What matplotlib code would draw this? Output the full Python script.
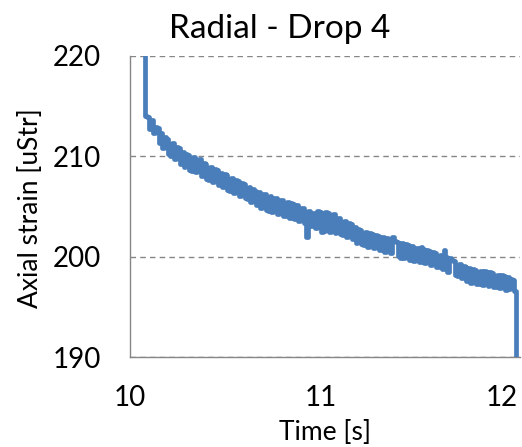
import numpy as np
import matplotlib
matplotlib.use("Agg")
import matplotlib.pyplot as plt
from matplotlib.transforms import ScaledTranslation

# Strain record, sampled every 0.01 s starting at t0
t0 = 10.08
dt = 0.01
strain = [
    228.0,
    214.0, 213.9, 212.7, 213.6, 212.3, 212.9, 212.8, 211.3, 212.3, 210.8,
    211.9, 211.7, 210.2, 210.0, 211.3, 209.7, 210.9, 210.8, 209.2, 210.4,
    208.9, 210.2, 210.1, 208.6, 208.5, 209.9, 208.4, 209.6, 209.7, 208.0,
    209.3, 209.2, 207.7, 207.6, 208.9, 207.4, 208.7, 208.6, 207.1, 208.3,
    206.9, 208.2, 208.1, 206.6, 206.5, 207.8, 206.3, 207.6, 207.5, 206.0,
    207.3, 207.2, 205.8, 205.7, 206.9, 205.4, 206.7, 206.5, 205.1, 206.4,
    204.9, 206.2, 206.2, 204.7, 204.6, 206.0, 204.5, 205.8, 205.8, 204.3,
    205.6, 205.6, 204.1, 204.1, 205.4, 203.9, 205.3, 205.2, 203.8, 205.1,
    203.6, 204.9, 204.9, 203.4, 202.0, 204.6, 203.1, 204.4, 204.3, 202.9,
    204.6, 204.5, 202.5, 202.6, 204.5, 204.4, 202.5, 202.7, 204.3, 202.4,
    203.8, 203.9, 202.3, 202.2, 203.6, 202.0, 203.4, 203.3, 201.8, 203.0,
    201.4, 202.8, 202.7, 201.3, 201.2, 202.5, 201.0, 202.4, 202.3, 200.9,
    202.2, 202.1, 200.7, 200.7, 202.0, 200.5, 201.9, 201.8, 200.4, 202.0,
    201.6, 201.5, 200.1, 199.9, 201.4, 199.9, 201.3, 201.2, 199.7, 201.1,
    199.6, 200.9, 200.9, 199.5, 201.0, 200.8, 199.4, 200.7, 200.6, 199.2,
    200.5, 200.4, 199.0, 199.0, 200.2, 198.8, 200.7, 200.0, 198.5, 199.9,
    199.7, 199.6, 198.2, 198.1, 199.3, 197.9, 199.1, 199.0, 197.6, 198.9,
    197.4, 198.8, 198.7, 197.3, 197.3, 198.6, 197.2, 198.6, 198.5, 197.1,
    198.5, 198.4, 197.0, 197.0, 198.2, 196.9, 198.2, 198.1, 196.7, 198.0,
    196.8, 197.8, 197.7, 196.6,
    185.0,
]
time = t0 + dt * np.arange(len(strain))

x_ticks = [10, 11, 12]
y_ticks = [190, 200, 210, 220]

FONT = "Lato"
LINE = "#4a7ebb"
AXIS = "#868686"

fig = plt.figure(figsize=(5.22, 4.47), dpi=100)
ax = fig.add_axes([130 / 522, 1 - 357 / 447, 390 / 522, 301 / 447])

ax.plot(time, strain, color=LINE, lw=3.4, drawstyle="steps-pre",
        solid_joinstyle="round", zorder=3)

ax.set_xlim(10, 12.04)
ax.set_ylim(190, 220)
ax.set_xticks(x_ticks)
ax.set_yticks(y_ticks)
ax.set_xticklabels([str(v) for v in x_ticks], fontfamily=FONT, fontsize=20)
ax.set_yticklabels([str(v) for v in y_ticks], fontfamily=FONT, fontsize=20)
ax.tick_params(axis="both", length=0, colors="black")
ax.tick_params(axis="x", pad=20)
ax.tick_params(axis="y", pad=21)

# nudge the last x label so it stays inside the chart
last = ax.get_xticklabels()[-1]
last.set_transform(last.get_transform() + ScaledTranslation(-11 / 100, 0, fig.dpi_scale_trans))

ax.grid(axis="y", color=AXIS, linestyle=(0, (4, 3)), lw=1.0)
ax.set_axisbelow(True)
for s in ["top", "right"]:
    ax.spines[s].set_visible(False)
for s in ["left", "bottom"]:
    ax.spines[s].set_color(AXIS)
    ax.spines[s].set_linewidth(1.0)

fig.text(280 / 522, 1 - 29 / 447, "Radial - Drop 4", fontfamily=FONT, fontsize=24,
         ha="center", va="center")
fig.text(31 / 522, 1 - 208 / 447, "Axial strain [uStr]", fontfamily=FONT, fontsize=19,
         ha="center", va="center", rotation=90)
fig.text(325 / 522, 1 - 432 / 447, "Time [s]", fontfamily=FONT, fontsize=19,
         ha="center", va="center")

fig.savefig("out.png", dpi=100)
